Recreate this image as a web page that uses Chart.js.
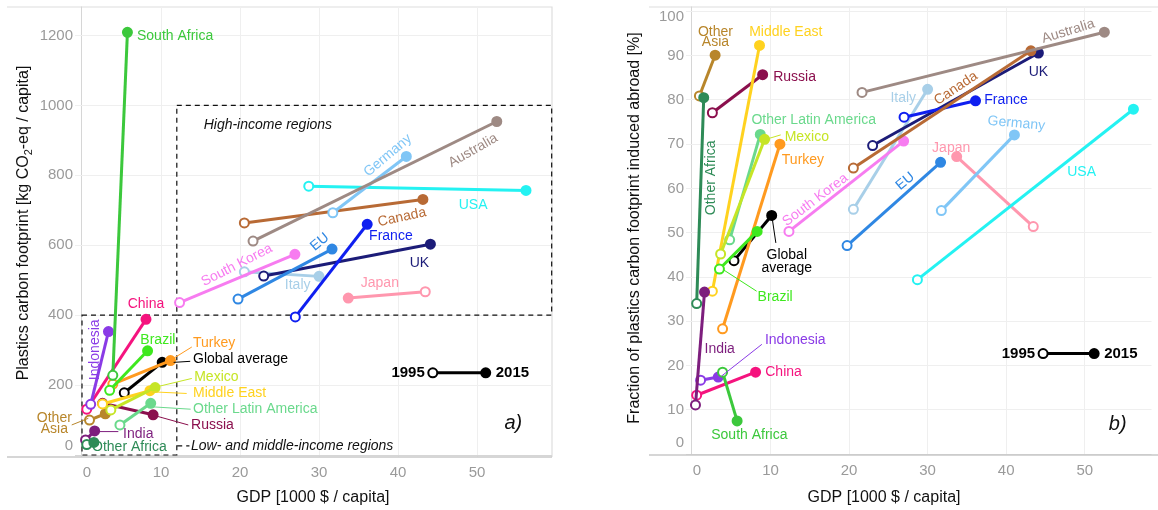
<!DOCTYPE html>
<html><head><meta charset="utf-8">
<script src="https://cdn.jsdelivr.net/npm/chart.js@4.4.1/dist/chart.umd.min.js"></script>
<style>
html,body{margin:0;padding:0;background:#fff;width:1158px;height:510px;overflow:hidden}
#wa{position:absolute;left:0;top:0;width:560px;height:510px}
#wb{position:absolute;left:580px;top:0;width:578px;height:510px}
</style></head><body>
<div id="wa"><canvas id="ca"></canvas></div>
<div id="wb"><canvas id="cb"></canvas></div>
<script>
// Regions and their 1995 -> 2015 values
const regions = ['South Africa','Other Africa','India','Indonesia','China','Brazil','Turkey','Mexico','Middle East','Other Latin America','Russia','Other Asia','Australia','Germany','USA','Canada','France','EU','UK','South Korea','Italy','Japan','Global average'];
// GDP [1000 $ / capita]
const gdp1995 = [3.9, 0.6, 0.45, 1.1, 0.6, 3.5, 3.9, 3.65, 2.6, 4.8, 2.6, 0.95, 21.65, 31.75, 28.7, 20.55, 27.0, 19.75, 23.0, 12.35, 20.55, 43.45, 5.35];
const gdp2015 = [5.75, 1.5, 1.6, 3.35, 8.1, 8.3, 11.2, 9.25, 8.6, 8.7, 9.0, 2.95, 52.5, 41.05, 56.2, 43.15, 36.1, 31.65, 44.1, 26.95, 30.0, 33.7, 10.15];
// Plastics carbon footprint [kg CO2-eq / capita]
const footprint1995 = [228, 30, 43, 145, 131, 185, 203, 129, 146, 86, 148, 100, 612, 693, 769, 664, 395, 446, 512, 436, 524, 467, 178];
const footprint2015 = [1209, 36, 69, 353, 388, 298, 270, 193, 184, 148, 115, 118, 954, 854, 757, 731, 660, 589, 603, 574, 511, 449, 265];
// Share of the footprint induced abroad [%]
const abroad1995 = [18.5, 34.0, 11.1, 16.7, 13.3, 41.8, 28.3, 45.2, 36.8, 48.4, 77.1, 80.9, 81.7, 55.0, 39.4, 64.6, 76.1, 47.1, 69.7, 50.3, 55.3, 51.4, 43.7];
const abroad2015 = [7.5, 80.5, 36.6, 17.4, 18.5, 50.3, 70.0, 71.1, 92.3, 72.2, 85.7, 90.1, 95.3, 72.1, 77.9, 91.1, 79.8, 65.9, 90.6, 70.7, 82.4, 67.2, 53.9];
// Axis ticks
const xTicks = [0, 10, 20, 30, 40, 50];
const yTicksA = [0, 200, 400, 600, 800, 1000, 1200];
const yTicksB = [0, 10, 20, 30, 40, 50, 60, 70, 80, 90, 100];

const colors = {
  'South Africa':'#3cc83c','Other Africa':'#2e8b57','India':'#7d1e7d','Indonesia':'#8a3be6',
  'China':'#f5137e','Brazil':'#3ee81e','Turkey':'#ff9a1f','Mexico':'#c6e526',
  'Middle East':'#ffd21f','Other Latin America':'#6ad98c','Russia':'#8b0f4d','Other Asia':'#b8862b',
  'Australia':'#9e8a84','Germany':'#80c6f6','USA':'#24f2f2','Canada':'#b86a35',
  'France':'#0f1ff0','EU':'#2f87e3','UK':'#1c1c78','South Korea':'#f77cf0',
  'Italy':'#a8cfe8','Japan':'#ff97ae','Global average':'#000000'
};
const FONT = '"Liberation Sans", Arial, sans-serif';

// Text annotations: [text, x, y, align, rotation(deg), colour key]
const labelsA = [
  ['South Africa', 6.96, 1197, 'left', 0, 'South Africa'],
  ['Germany', 38.7, 857, 'center', -40, 'Germany'],
  ['Australia', 49.5, 871, 'center', -30, 'Australia'],
  ['USA', 49.5, 714, 'center', 0, 'USA'],
  ['Canada', 40.5, 680, 'center', -12, 'Canada'],
  ['France', 39.1, 626, 'center', 0, 'France'],
  ['EU', 30.1, 609, 'center', -40, 'EU'],
  ['UK', 42.7, 549, 'center', 0, 'UK'],
  ['South Korea', 19.6, 543, 'center', -27, 'South Korea'],
  ['Italy', 27.3, 486, 'center', 0, 'Italy'],
  ['Japan', 37.7, 491, 'center', 0, 'Japan'],
  ['China', 8.1, 431, 'center', 0, 'China'],
  ['Indonesia', 1.65, 301, 'center', -90, 'Indonesia'],
  ['Brazil', 9.6, 329, 'center', 0, 'Brazil'],
  ['Turkey', 14.05, 320, 'left', 0, 'Turkey'],
  ['Global average', 14.05, 274, 'left', 0, 'Global average'],
  ['Mexico', 14.2, 223, 'left', 0, 'Mexico'],
  ['Middle East', 14.05, 177, 'left', 0, 'Middle East'],
  ['Other Latin America', 14.05, 131, 'left', 0, 'Other Latin America'],
  ['Russia', 13.8, 86, 'left', 0, 'Russia'],
  ['Other', -3.5, 106, 'center', 0, 'Other Asia'],
  ['Asia', -3.5, 74, 'center', 0, 'Other Asia'],
  ['India', 5.2, 60, 'left', 0, 'India'],
  ['Other Africa', 1.27, 23, 'left', 0, 'Other Africa']
];
const labelsB = [
  ['Other', 2.99, 95.3, 'center', 0, 'Other Asia'],
  ['Asia', 2.99, 93.1, 'center', 0, 'Other Asia'],
  ['Middle East', 11.94, 95.3, 'center', 0, 'Middle East'],
  ['Russia', 10.34, 85.1, 'left', 0, 'Russia'],
  ['Other Latin America', 15.5, 75.5, 'center', 0, 'Other Latin America'],
  ['Mexico', 11.8, 71.7, 'left', 0, 'Mexico'],
  ['Turkey', 11.44, 66.4, 'left', 0, 'Turkey'],
  ['Other Africa', 2.48, 62.4, 'center', -90, 'Other Africa'],
  ['South Korea', 15.7, 57.4, 'center', -37, 'South Korea'],
  ['Global', 12.07, 44.9, 'center', 0, 'Global average'],
  ['average', 12.07, 42.0, 'center', 0, 'Global average'],
  ['Brazil', 8.36, 35.4, 'left', 0, 'Brazil'],
  ['India', 3.53, 23.8, 'center', 0, 'India'],
  ['Indonesia', 9.29, 25.7, 'left', 0, 'Indonesia'],
  ['China', 9.33, 18.5, 'left', 0, 'China'],
  ['South Africa', 7.31, 4.3, 'center', 0, 'South Africa'],
  ['Australia', 47.9, 95.5, 'center', -17, 'Australia'],
  ['UK', 44.1, 86.3, 'center', 0, 'UK'],
  ['Canada', 33.6, 82.6, 'center', -34, 'Canada'],
  ['Italy', 26.9, 80.5, 'center', 0, 'Italy'],
  ['France', 37.2, 80.0, 'left', 0, 'France'],
  ['Germany', 41.3, 74.7, 'center', 5, 'Germany'],
  ['Japan', 33.0, 69.2, 'center', 0, 'Japan'],
  ['EU', 27.15, 61.6, 'center', -40, 'EU'],
  ['USA', 49.6, 63.6, 'center', 0, 'USA']
];
// Leader lines from points to their labels: [x1, y1, x2, y2, colour key]
const leadersA = [
  [11.55, 276, 13.9, 309, 'Turkey'],
  [11.6, 265, 13.7, 268, 'Global average'],
  [9.45, 195, 13.9, 219, 'Mexico'],
  [8.6, 181, 13.25, 176, 'Middle East'],
  [8.8, 138, 13.75, 131, 'Other Latin America'],
  [9.0, 114, 13.45, 86, 'Russia'],
  [-1.3, 86, 0.8, 105, 'Other Asia'],
  [1.86, 67, 4.6, 67, 'India']
];
const leadersB = [
  [9.42, 71.1, 11.3, 72.1, 'Mexico'],
  [10.18, 53.7, 10.68, 47.7, 'Global average'],
  [3.95, 41.7, 8.23, 36.8, 'Brazil'],
  [3.75, 17.6, 8.9, 24.8, 'Indonesia']
];

function buildDatasets(v95, v15) {
  return regions.map((name, i) => ({
    label: name,
    data: [{x: gdp1995[i], y: v95[i]}, {x: gdp2015[i], y: v15[i]}],
    showLine: true,
    borderColor: colors[name],
    borderWidth: 3,
    pointRadius: 4.5,
    pointBorderWidth: 2,
    pointBorderColor: colors[name],
    pointBackgroundColor: ['#ffffff', colors[name]],
    clip: false
  }));
}

function txt(ctx, s, x, y, align, rot, color, font) {
  ctx.save();
  ctx.translate(x, y);
  ctx.rotate((rot || 0) * Math.PI / 180);
  ctx.font = font;
  ctx.fillStyle = color;
  ctx.textAlign = align;
  ctx.textBaseline = 'middle';
  ctx.fillText(s, 0, 0);
  ctx.restore();
}

function decor(opt) {
  return {
    id: 'decor',
    beforeDraw(chart) {
      const {ctx, chartArea: a} = chart;
      ctx.save();
      ctx.fillStyle = '#fff';
      ctx.fillRect(0, 0, chart.width, chart.height);
      ctx.lineWidth = 1.2;
      ctx.strokeStyle = '#dedede';
      ctx.beginPath();
      ctx.moveTo(opt.frameLeft, a.top + 0.5);
      ctx.lineTo(opt.frameRight, a.top + 0.5);
      if (opt.rightBorder) { ctx.lineTo(opt.frameRight, a.bottom); }
      ctx.stroke();
      ctx.restore();
    },
    beforeDatasetsDraw(chart) {
      const {ctx, chartArea: a, scales: {x, y}} = chart;
      ctx.save();
      ctx.strokeStyle = '#c9c9c9';
      ctx.lineWidth = 1.5;
      ctx.beginPath();
      ctx.moveTo(opt.frameLeft, a.bottom);
      ctx.lineTo(opt.frameRight, a.bottom);
      ctx.stroke();
      // tick labels; the outermost ones sit slightly inside the frame
      const tf = '15px ' + FONT, tc = '#9a9a9a';
      x.ticks.forEach(t => {
        const dx = t.value === 0 ? 5 : 0;
        txt(ctx, String(t.value), x.getPixelForValue(t.value) + dx, a.bottom + 16, 'center', 0, tc, tf);
      });
      const ys = y.ticks.map(t => t.value);
      const yMaxTick = Math.max(...ys);
      y.ticks.forEach(t => {
        let dy = 0;
        if (t.value === 0) dy = opt.zeroNudge;
        if (t.value === yMaxTick) dy = opt.topNudge;
        txt(ctx, String(t.value), a.left - 2, y.getPixelForValue(t.value) + dy, 'right', 0, tc, tf);
      });
      // income-group boxes
      ctx.strokeStyle = '#111';
      ctx.lineWidth = 1.2;
      ctx.setLineDash([5, 4]);
      (opt.boxes || []).forEach(b => {
        const l = x.getPixelForValue(b[0]), r = x.getPixelForValue(b[1]);
        const t = y.getPixelForValue(b[3]), btm = y.getPixelForValue(b[2]);
        ctx.strokeRect(l, t, r - l, btm - t);
      });
      ctx.restore();
    },
    afterDatasetsDraw(chart) {
      const {ctx, scales: {x, y}} = chart;
      const px = v => x.getPixelForValue(v), py = v => y.getPixelForValue(v);
      ctx.save();
      ctx.lineWidth = 1;
      opt.leaders.forEach(l => {
        ctx.strokeStyle = colors[l[4]];
        ctx.beginPath();
        ctx.moveTo(px(l[0]), py(l[1]));
        ctx.lineTo(px(l[2]), py(l[3]));
        ctx.stroke();
      });
      opt.labels.forEach(l => {
        txt(ctx, l[0], px(l[1]), py(l[2]), l[3], l[4], colors[l[5]], '14px ' + FONT);
      });
      // group captions
      (opt.notes || []).forEach(n => {
        txt(ctx, n[0], px(n[1]), py(n[2]), 'left', 0, '#111', 'italic 14px ' + FONT);
      });
      if (opt.lowLeader) {
        const L = opt.lowLeader;
        ctx.setLineDash([5, 4]);
        ctx.strokeStyle = '#111';
        ctx.lineWidth = 1.2;
        ctx.beginPath();
        ctx.moveTo(px(L[0]), py(L[2]));
        ctx.lineTo(px(L[1]), py(L[2]));
        ctx.stroke();
        ctx.setLineDash([]);
      }
      // year key
      const k = opt.key;
      const k1 = px(k[0]), k2 = px(k[1]), ky = py(k[2]);
      ctx.strokeStyle = '#000';
      ctx.lineWidth = 3;
      ctx.beginPath(); ctx.moveTo(k1, ky); ctx.lineTo(k2, ky); ctx.stroke();
      ctx.lineWidth = 2;
      ctx.fillStyle = '#fff';
      ctx.beginPath(); ctx.arc(k1, ky, 4.5, 0, Math.PI * 2); ctx.fill(); ctx.stroke();
      ctx.fillStyle = '#000';
      ctx.beginPath(); ctx.arc(k2, ky, 4.5, 0, Math.PI * 2); ctx.fill(); ctx.stroke();
      txt(ctx, '1995', k1 - 8, ky, 'right', 0, '#000', 'bold 15px ' + FONT);
      txt(ctx, '2015', k2 + 10, ky, 'left', 0, '#000', 'bold 15px ' + FONT);
      txt(ctx, opt.letter[0], px(opt.letter[1]), py(opt.letter[2]), 'center', 0, '#111', 'italic 20px ' + FONT);
      // axis titles
      txt(ctx, 'GDP [1000 $ / capita]', opt.xTitle[0], opt.xTitle[1], 'center', 0, '#111', '16px ' + FONT);
      const yt = opt.yTitle;
      ctx.save();
      ctx.translate(yt.x, yt.y);
      ctx.rotate(-Math.PI / 2);
      ctx.fillStyle = '#111';
      ctx.textBaseline = 'middle';
      ctx.textAlign = 'left';
      const big = '16px ' + FONT, small = '11px ' + FONT;
      let w = 0;
      yt.parts.forEach(p => { ctx.font = p[1] ? small : big; w += ctx.measureText(p[0]).width; });
      let cx = -w / 2;
      yt.parts.forEach(p => {
        ctx.font = p[1] ? small : big;
        ctx.fillText(p[0], cx, p[1] ? 5 : 0);
        cx += ctx.measureText(p[0]).width;
      });
      ctx.restore();
      ctx.restore();
    }
  };
}

function makeChart(id, v95, v15, xr, yr, yTicks, axisW, axisH, pad, opt) {
  const gridColor = c => (c.tick && c.tick.value === 0) ? '#d6d6d6' : '#efefef';
  return new Chart(document.getElementById(id), {
    type: 'scatter',
    data: {datasets: buildDatasets(v95, v15)},
    options: {
      responsive: true,
      maintainAspectRatio: false,
      animation: false,
      events: [],
      layout: {padding: pad},
      plugins: {legend: {display: false}, tooltip: {enabled: false}},
      scales: {
        x: {
          type: 'linear', min: xr[0], max: xr[1],
          afterBuildTicks: s => { s.ticks = xTicks.map(v => ({value: v})); },
          afterFit: s => { s.height = axisH; s.paddingLeft = 0; s.paddingRight = 0; },
          grid: {color: gridColor, drawTicks: false, lineWidth: 1},
          border: {display: false},
          ticks: {display: false}
        },
        y: {
          type: 'linear', min: yr[0], max: yr[1],
          afterBuildTicks: s => { s.ticks = yTicks.map(v => ({value: v})); },
          afterFit: s => { s.width = axisW; s.paddingTop = 0; s.paddingBottom = 0; },
          grid: {color: gridColor, drawTicks: false, lineWidth: 1},
          border: {display: false},
          ticks: {display: false}
        }
      }
    },
    plugins: [decor(opt)]
  });
}

makeChart('ca', footprint1995, footprint2015, [-0.886, 59.49], [-5.7, 1283], yTicksA, 75, 53,
  {left: 0, right: 8, top: 6, bottom: 0}, {
    frameLeft: 7, frameRight: 552, rightBorder: true,
    zeroNudge: -9, topNudge: 0,
    boxes: [[0, 12, 0, 400], [12, 59.45, 400, 1000]],
    notes: [['High-income regions', 15.4, 943], ['Low- and middle-income regions', 13.8, 26]],
    lowLeader: [12.05, 13.6, 26],
    labels: labelsA, leaders: leadersA,
    key: [44.4, 51.1, 235], letter: ['a)', 54.6, 89],
    xTitle: [313, 498],
    yTitle: {x: 24, y: 223, parts: [['Plastics carbon footprint [kg CO', 0], ['2', 1], ['-eq / capita]', 0]]}
  });

makeChart('cb', abroad1995, abroad2015, [-0.757, 58.5], [-0.2, 101.1], yTicksB, 106, 55,
  {left: 0, right: 2, top: 6, bottom: 0}, {
    frameLeft: 69, frameRight: 578, rightBorder: false,
    zeroNudge: -11, topNudge: 5,
    labels: labelsB, leaders: leadersB,
    key: [44.7, 51.2, 22.7], letter: ['b)', 54.2, 6.8],
    xTitle: [304, 498],
    yTitle: {x: 55, y: 228, parts: [['Fraction of plastics carbon footprint induced abroad [%]', 0]]}
  });
</script>
</body></html>
